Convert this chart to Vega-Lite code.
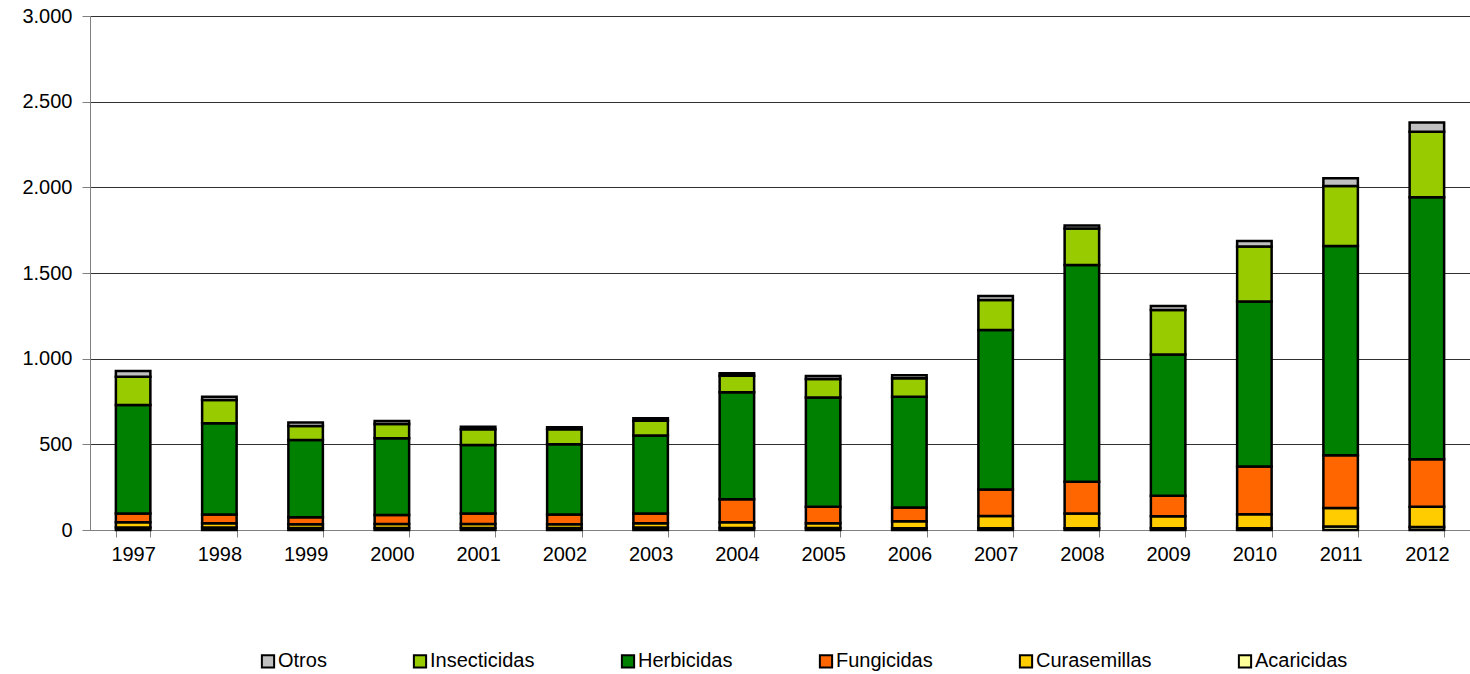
{
  "$schema": "https://vega.github.io/schema/vega-lite/v6.json",
  "width": 1380,
  "height": 514,
  "autosize": {"type": "none"},
  "padding": {"left": 90, "top": 16, "right": 0, "bottom": 144},
  "background": "white",
  "data": {
    "values": [
      {"year": "1997", "cat": "Acaricidas", "value": 15}, {"year": "1997", "cat": "Curasemillas", "value": 30}, {"year": "1997", "cat": "Fungicidas", "value": 52}, {"year": "1997", "cat": "Herbicidas", "value": 633}, {"year": "1997", "cat": "Insecticidas", "value": 165}, {"year": "1997", "cat": "Otros", "value": 33},
      {"year": "1998", "cat": "Acaricidas", "value": 15}, {"year": "1998", "cat": "Curasemillas", "value": 24}, {"year": "1998", "cat": "Fungicidas", "value": 52}, {"year": "1998", "cat": "Herbicidas", "value": 532}, {"year": "1998", "cat": "Insecticidas", "value": 136}, {"year": "1998", "cat": "Otros", "value": 19},
      {"year": "1999", "cat": "Acaricidas", "value": 12}, {"year": "1999", "cat": "Curasemillas", "value": 21}, {"year": "1999", "cat": "Fungicidas", "value": 41}, {"year": "1999", "cat": "Herbicidas", "value": 451}, {"year": "1999", "cat": "Insecticidas", "value": 82}, {"year": "1999", "cat": "Otros", "value": 20},
      {"year": "2000", "cat": "Acaricidas", "value": 12}, {"year": "2000", "cat": "Curasemillas", "value": 23}, {"year": "2000", "cat": "Fungicidas", "value": 53}, {"year": "2000", "cat": "Herbicidas", "value": 447}, {"year": "2000", "cat": "Insecticidas", "value": 84}, {"year": "2000", "cat": "Otros", "value": 17},
      {"year": "2001", "cat": "Acaricidas", "value": 12}, {"year": "2001", "cat": "Curasemillas", "value": 23}, {"year": "2001", "cat": "Fungicidas", "value": 62}, {"year": "2001", "cat": "Herbicidas", "value": 399}, {"year": "2001", "cat": "Insecticidas", "value": 92}, {"year": "2001", "cat": "Otros", "value": 15},
      {"year": "2002", "cat": "Acaricidas", "value": 12}, {"year": "2002", "cat": "Curasemillas", "value": 21}, {"year": "2002", "cat": "Fungicidas", "value": 58}, {"year": "2002", "cat": "Herbicidas", "value": 409}, {"year": "2002", "cat": "Insecticidas", "value": 88}, {"year": "2002", "cat": "Otros", "value": 11},
      {"year": "2003", "cat": "Acaricidas", "value": 14}, {"year": "2003", "cat": "Curasemillas", "value": 25}, {"year": "2003", "cat": "Fungicidas", "value": 58}, {"year": "2003", "cat": "Herbicidas", "value": 454}, {"year": "2003", "cat": "Insecticidas", "value": 87}, {"year": "2003", "cat": "Otros", "value": 14},
      {"year": "2004", "cat": "Acaricidas", "value": 12}, {"year": "2004", "cat": "Curasemillas", "value": 33}, {"year": "2004", "cat": "Fungicidas", "value": 134}, {"year": "2004", "cat": "Herbicidas", "value": 625}, {"year": "2004", "cat": "Insecticidas", "value": 97}, {"year": "2004", "cat": "Otros", "value": 14},
      {"year": "2005", "cat": "Acaricidas", "value": 12}, {"year": "2005", "cat": "Curasemillas", "value": 27}, {"year": "2005", "cat": "Fungicidas", "value": 97}, {"year": "2005", "cat": "Herbicidas", "value": 637}, {"year": "2005", "cat": "Insecticidas", "value": 109}, {"year": "2005", "cat": "Otros", "value": 17},
      {"year": "2006", "cat": "Acaricidas", "value": 10}, {"year": "2006", "cat": "Curasemillas", "value": 41}, {"year": "2006", "cat": "Fungicidas", "value": 81}, {"year": "2006", "cat": "Herbicidas", "value": 646}, {"year": "2006", "cat": "Insecticidas", "value": 107}, {"year": "2006", "cat": "Otros", "value": 18},
      {"year": "2007", "cat": "Acaricidas", "value": 10}, {"year": "2007", "cat": "Curasemillas", "value": 72}, {"year": "2007", "cat": "Fungicidas", "value": 155}, {"year": "2007", "cat": "Herbicidas", "value": 931}, {"year": "2007", "cat": "Insecticidas", "value": 175}, {"year": "2007", "cat": "Otros", "value": 23},
      {"year": "2008", "cat": "Acaricidas", "value": 10}, {"year": "2008", "cat": "Curasemillas", "value": 87}, {"year": "2008", "cat": "Fungicidas", "value": 185}, {"year": "2008", "cat": "Herbicidas", "value": 1265}, {"year": "2008", "cat": "Insecticidas", "value": 213}, {"year": "2008", "cat": "Otros", "value": 17},
      {"year": "2009", "cat": "Acaricidas", "value": 10}, {"year": "2009", "cat": "Curasemillas", "value": 70}, {"year": "2009", "cat": "Fungicidas", "value": 120}, {"year": "2009", "cat": "Herbicidas", "value": 825}, {"year": "2009", "cat": "Insecticidas", "value": 259}, {"year": "2009", "cat": "Otros", "value": 24},
      {"year": "2010", "cat": "Acaricidas", "value": 10}, {"year": "2010", "cat": "Curasemillas", "value": 82}, {"year": "2010", "cat": "Fungicidas", "value": 278}, {"year": "2010", "cat": "Herbicidas", "value": 963}, {"year": "2010", "cat": "Insecticidas", "value": 321}, {"year": "2010", "cat": "Otros", "value": 33},
      {"year": "2011", "cat": "Acaricidas", "value": 20}, {"year": "2011", "cat": "Curasemillas", "value": 108}, {"year": "2011", "cat": "Fungicidas", "value": 308}, {"year": "2011", "cat": "Herbicidas", "value": 1222}, {"year": "2011", "cat": "Insecticidas", "value": 350}, {"year": "2011", "cat": "Otros", "value": 45},
      {"year": "2012", "cat": "Acaricidas", "value": 18}, {"year": "2012", "cat": "Curasemillas", "value": 118}, {"year": "2012", "cat": "Fungicidas", "value": 277}, {"year": "2012", "cat": "Herbicidas", "value": 1529}, {"year": "2012", "cat": "Insecticidas", "value": 383}, {"year": "2012", "cat": "Otros", "value": 53}
    ]
  },
  "mark": {"type": "bar", "stroke": "black", "strokeWidth": 2.5, "opacity": 1},
  "encoding": {
    "x": {
      "field": "year",
      "type": "ordinal",
      "scale": {"paddingInner": 0.6, "paddingOuter": 0.3},
      "axis": {
        "title": null,
        "labelAngle": 0,
        "tickBand": "extent",
        "tickSize": 7,
        "tickColor": "#808080",
        "domainColor": "#808080",
        "labelPadding": 7,
        "grid": false
      }
    },
    "y": {
      "field": "value",
      "type": "quantitative",
      "aggregate": "sum",
      "stack": "zero",
      "scale": {"domain": [0, 3000], "nice": false},
      "axis": {
        "title": null,
        "values": [0, 500, 1000, 1500, 2000, 2500, 3000],
        "labelExpr": "replace(format(datum.value, ','), ',', '.')",
        "grid": true,
        "gridColor": "#303030",
        "gridWidth": 1,
        "tickSize": 8,
        "tickColor": "#808080",
        "domainColor": "#808080",
        "labelPadding": 10
      }
    },
    "color": {
      "field": "cat",
      "type": "nominal",
      "sort": ["Otros", "Insecticidas", "Herbicidas", "Fungicidas", "Curasemillas", "Acaricidas"],
      "scale": {
        "domain": ["Otros", "Insecticidas", "Herbicidas", "Fungicidas", "Curasemillas", "Acaricidas"],
        "range": ["#C0C0C0", "#99CC00", "#008000", "#FF6600", "#FFCC00", "#FFFF99"]
      },
      "legend": {
        "title": null,
        "orient": "none",
        "legendX": 168,
        "legendY": 635,
        "direction": "horizontal",
        "columns": 6,
        "columnPadding": 82,
        "symbolType": "square",
        "symbolSize": 150,
        "symbolStrokeColor": "black",
        "symbolStrokeWidth": 2,
        "symbolOpacity": 1,
        "labelFontSize": 20,
        "labelFont": "Liberation Sans",
        "labelColor": "black",
        "labelOffset": 0
      }
    },
    "order": {"field": "cat", "sort": "ascending"}
  },
  "config": {
    "view": {"stroke": null},
    "axis": {
      "labelFont": "Liberation Sans",
      "labelFontSize": 20,
      "labelColor": "black"
    }
  }
}
